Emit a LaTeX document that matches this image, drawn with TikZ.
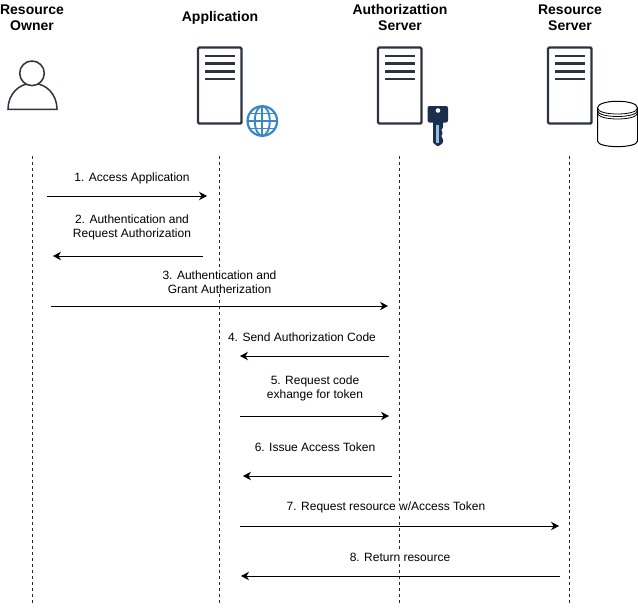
\documentclass[tikz,border=0pt]{standalone}
\usepackage{fontspec}
\setmainfont{Liberation Sans}
\usetikzlibrary{arrows.meta}
\definecolor{ink}{HTML}{2E3342}
\definecolor{globe}{HTML}{3A87C8}
\definecolor{keyc}{HTML}{1B2E4E}
\tikzset{
  x=1pt,y=-1pt,
  actor/.style={align=center,font=\fontsize{14}{16}\selectfont\bfseries,inner sep=0pt},
  msg/.style={align=center,font=\fontsize{12}{14}\selectfont,inner sep=1pt,fill=white},
  life/.style={draw=black!85,line width=0.8pt,dash pattern=on 3pt off 3pt},
  flow/.style={draw=black,line width=1pt,-{Stealth[length=8pt,width=8.5pt,inset=2.5pt]}},
  serverbox/.style={draw=ink,line width=2.4pt,rounded corners=1.2pt,fill=white},
  serverline/.style={draw=ink,line width=2.6pt},
}
\newcommand{\serverpic}[1]{%
  \begin{scope}[shift={(#1,0)}]
    \draw[serverbox] (0,47.5) rectangle (43.5,123.5);
    \draw[serverline] (7,56) -- (36.5,56) (7,63.7) -- (36.5,63.7) (7,71.3) -- (36.5,71.3) (7,79) -- (36.5,79);
  \end{scope}}
\begin{document}
\begin{tikzpicture}
\useasboundingbox (0,0) rectangle (638,608);
% lifelines
\coordinate (l1t) at (32,156); \coordinate (l1b) at (32,604);
\coordinate (l2t) at (219,156); \coordinate (l2b) at (219,604);
\coordinate (l3t) at (399,156); \coordinate (l3b) at (399,604);
\coordinate (l4t) at (569,156); \coordinate (l4b) at (569,604);
\draw[life] (l1t) -- (l1b);
\draw[life] (l2t) -- (l2b);
\draw[life] (l3t) -- (l3b);
\draw[life] (l4t) -- (l4b);
% actor titles
\node[actor] (a1) at (32,17.5) {Resource\\Owner};
\node[actor] (a2) at (220,18) {Application};
\node[actor] (a3) at (400,17.5) {Authorizattion\\Server};
\node[actor] (a4) at (570,17.5) {Resource\\Server};
% person
\draw[ink,line width=1.5pt,fill=white] (8,109.3) -- (57,109.3) .. controls (57,94.5) and (46.5,83.3) .. (32.5,83.3) .. controls (18.5,83.3) and (8,94.5) .. (8,109.3) -- cycle;
\draw[ink,line width=1.5pt,fill=white] (32,73.3) circle[radius=12.3];
% servers
\serverpic{198}
\serverpic{378}
\serverpic{548}
% globe
\begin{scope}[shift={(262.3,121)}]
  \draw[globe,line width=2.2pt] (0,0) circle[radius=14.8];
  \draw[globe,line width=1.9pt] (0,0) ellipse[x radius=7.5,y radius=14.8];
  \draw[globe,line width=1.9pt] (0,-14.8) -- (0,14.8) (-14.8,0) -- (14.8,0) (-12.5,-7.5) -- (12.5,-7.5) (-12.5,7.5) -- (12.5,7.5);
\end{scope}
% key
\fill[keyc,rounded corners=2pt] (427.5,106) rectangle (448,122.5);
\fill[keyc,rounded corners=1pt] (433,121) -- (443,121) -- (443,128) -- (441,130) -- (443,133) -- (441,136) -- (443,139) -- (443,143) -- (438,146.5) -- (433,143) -- cycle;
\fill[white] (438,110.5) circle[radius=2.3];
\fill[globe!55!white] (436,125) rectangle (438.5,143);
% database
\draw[black,line width=1pt,fill=white] (597.5,108) .. controls (597.5,99) and (637.5,99) .. (637.5,108) -- (637.5,141) .. controls (637.5,148.5) and (597.5,148.5) .. (597.5,141) -- cycle;
\draw[black,line width=0.8pt] (597.5,108) .. controls (597.5,116) and (637.5,116) .. (637.5,108);
\draw[black,line width=0.8pt] (597.5,110.5) .. controls (597.5,118.5) and (637.5,118.5) .. (637.5,110.5);
\draw[black,line width=0.8pt] (597.5,113) .. controls (597.5,121) and (637.5,121) .. (637.5,113);
% messages
\coordinate (m1a) at (47,196); \coordinate (m1b) at (207,196);
\coordinate (m2a) at (203,256); \coordinate (m2b) at (53,256);
\coordinate (m3a) at (51,306); \coordinate (m3b) at (388,306);
\coordinate (m4a) at (389,356); \coordinate (m4b) at (240,356);
\coordinate (m5a) at (240,416); \coordinate (m5b) at (389,416);
\coordinate (m6a) at (392,476); \coordinate (m6b) at (243,476);
\coordinate (m7a) at (240,526); \coordinate (m7b) at (559,526);
\coordinate (m8a) at (560,576); \coordinate (m8b) at (241,576);
\foreach \a/\b in {m1a/m1b,m2a/m2b,m3a/m3b,m4a/m4b,m5a/m5b,m6a/m6b,m7a/m7b,m8a/m8b}
  \draw[flow] (\a) -- (\b);
\node[msg] (t1) at (132,178) {1. Access Application};
\node[msg] (t2) at (132,227) {2. Authentication and\\Request Authorization};
\node[msg] (t3) at (219.5,282) {3. Authentication and\\Grant Autherization};
\node[msg] (t4) at (302,337.5) {4. Send Authorization Code};
\node[msg] (t5) at (315,388) {5. Request code\\exhange for token};
\node[msg] (t6) at (315,447.5) {6. Issue Access Token};
\node[msg] (t7) at (386,507.5) {7. Request resource w/Access Token};
\node[msg] (t8) at (400,557.5) {8. Return resource};
\end{tikzpicture}
\end{document}
